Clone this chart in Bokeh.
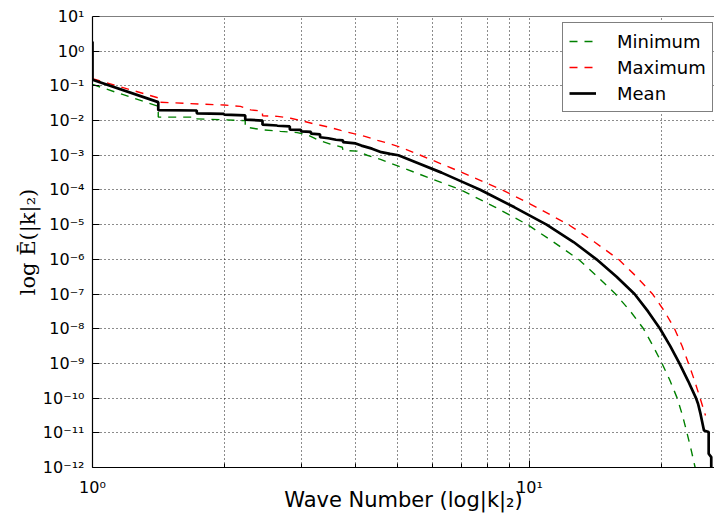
import json
from bokeh.plotting import figure
from bokeh.models import (FixedTicker, CustomJSTickFormatter, Legend, LegendItem,
                          Range1d, Span)
from bokeh.embed import file_html
from bokeh.resources import INLINE

# ---------------- data ----------------
mean_k = [1.0, 1.0, 1.414, 1.414, 1.732, 1.732, 2.0, 2.0, 2.236, 2.236,
          2.449, 2.449, 2.646, 2.646, 2.828, 2.828, 3.0, 3.0, 3.162, 3.162,
          3.317, 3.317, 3.464, 3.606, 3.742, 3.742, 4.0, 4.123, 4.36, 4.58,
          4.8, 5.01, 5.6, 6.29, 7.0, 7.73, 9.24, 10.94, 12.61, 14.23, 15.82,
          17.39, 18.67, 19.89, 20.99, 22.03, 23.05, 24.04, 24.3, 24.62,
          25.07, 25.7, 25.7, 26.05, 26.05]
mean_e = [1.9, 0.15, 0.034, 0.020, 0.0195, 0.0162, 0.0155, 0.0148, 0.0141, 0.0107,
          0.0100, 0.0076, 0.0072, 0.0071, 0.0068, 0.0055, 0.0054, 0.0049, 0.0047, 0.0042,
          0.0040, 0.0033, 0.0031, 0.0028, 0.0027, 0.0024, 0.0022, 0.0019, 0.00155, 0.00123,
          0.0011, 1.0e-3, 5.7e-4, 3.16e-4, 1.74e-4, 1.0e-4, 3.16e-5, 1.0e-5, 3.16e-6, 1.0e-6, 3.16e-7,
          1.0e-7, 3.16e-8, 1.0e-8, 3.16e-9, 1.0e-9, 3.16e-10, 1.0e-10, 6.9e-11, 3.5e-11,
          1.17e-11, 1.05e-11, 2.5e-12, 2.0e-12, 6.0e-13]

max_k = [1.0, 1.414, 1.414, 1.81, 2.0, 2.18, 2.3, 2.449, 2.449, 2.65, 2.84,
         3.0, 3.2, 3.45, 3.7, 3.96, 4.2, 4.49, 4.76, 5.07, 5.63, 7.02, 8.67,
         10.38, 12.28, 14.08, 15.98, 17.57, 19.12, 20.37, 21.47, 22.34, 23.11,
         23.86, 24.56, 25.27]
max_e = [0.162, 0.045, 0.034, 0.0295, 0.028, 0.0257, 0.0204, 0.0186, 0.0138, 0.0132, 0.0117,
         0.0100, 0.0081, 0.0066, 0.0052, 0.0042, 0.0035, 0.0027, 0.0022, 0.0017, 1.0e-3, 3.16e-4, 1.0e-4,
         3.16e-5, 1.0e-5, 3.16e-6, 1.0e-6, 3.16e-7, 1.0e-7, 3.16e-8, 1.0e-8, 3.16e-9, 1.0e-9,
         3.16e-10, 1.0e-10, 3.16e-11]

min_k = [1.0, 1.414, 1.414, 1.732, 1.732, 2.236, 2.236, 2.46, 2.69, 2.94, 3.1,
         3.27, 3.5, 3.73, 3.742, 4.03, 4.25, 4.56, 5.48, 6.97, 8.36, 9.89, 11.35,
         12.94, 14.31, 15.73, 17.02, 18.23, 19.17, 20.1, 20.97, 21.77, 22.39,
         22.92, 23.44, 23.93]
min_e = [0.11, 0.0257, 0.0126, 0.0126, 0.0112, 0.0100, 0.0065, 0.0054, 0.0049, 0.0045, 0.0039,
         0.0028, 0.0021, 0.0017, 0.00138, 0.00132, 1.0e-3, 7.6e-4, 3.16e-4, 1.0e-4, 3.16e-5, 1.0e-5, 3.16e-6,
         1.0e-6, 3.16e-7, 1.0e-7, 3.16e-8, 1.0e-8, 3.16e-9, 1.0e-9, 3.16e-10, 1.0e-10, 3.16e-11,
         1.0e-11, 3.16e-12, 1.0e-12]

x_major_ticks = [1, 10]
x_minor_ticks = [2, 3, 4, 5, 6, 7, 8, 9, 20]
y_ticks = [1e-12, 1e-11, 1e-10, 1e-9, 1e-8, 1e-7, 1e-6, 1e-5, 1e-4, 1e-3, 1e-2, 1e-1, 1e0, 1e1]

series_labels = ["Minimum", "Maximum", "Mean"]
x_label = "Wave Number (log|k|\u2082)"
y_label = "log \u0112(|k|\u2082)"

# ---------------- figure ----------------
p = figure(width=714, height=526, x_axis_type="log", y_axis_type="log",
           x_range=Range1d(1, 26.5), y_range=Range1d(1e-12, 10),
           output_backend="svg", toolbar_location=None,
           min_border_left=92, min_border_right=0, min_border_top=16, min_border_bottom=59)
p.outline_line_color = None
p.background_fill_color = "white"
p.border_fill_color = "white"

sup = {"-": "\u207b", "0": "\u2070", "1": "\u00b9", "2": "\u00b2", "3": "\u00b3",
       "4": "\u2074", "5": "\u2075", "6": "\u2076", "7": "\u2077", "8": "\u2078", "9": "\u2079"}
fmt = CustomJSTickFormatter(code="""
const sup = %s;
const e = Math.round(Math.log10(tick));
return "10" + String(e).split("").map(c => sup[c]).join("");
""" % json.dumps(sup))

p.xaxis.ticker = FixedTicker(ticks=x_major_ticks, minor_ticks=x_minor_ticks)
p.yaxis.ticker = FixedTicker(ticks=y_ticks, minor_ticks=[])
p.xaxis.formatter = fmt
p.yaxis.formatter = fmt

for ax in (p.xaxis, p.yaxis):
    ax.axis_line_color = "black"
    ax.axis_line_width = 1.2
    ax.major_tick_in = 7
    ax.major_tick_out = 0
    ax.minor_tick_in = 4
    ax.minor_tick_out = 0
    ax.major_tick_line_color = "black"
    ax.minor_tick_line_color = "black"
    ax.major_label_text_font = "DejaVu Sans"
    ax.major_label_text_font_size = "16px"
    ax.major_label_text_color = "black"
    ax.axis_label_text_font_style = "normal"
    ax.axis_label_text_color = "black"

p.xaxis.major_label_standoff = 10
p.yaxis.major_label_standoff = 8
p.xaxis.axis_label = x_label
p.xaxis.axis_label_text_font = "DejaVu Sans"
p.xaxis.axis_label_text_font_size = "21px"
p.xaxis.axis_label_standoff = -12
p.yaxis.axis_label = y_label
p.yaxis.axis_label_text_font = "DejaVu Serif"
p.yaxis.axis_label_text_font_size = "21px"
p.yaxis.axis_label_standoff = 0

for g in (p.xgrid, p.ygrid):
    g.grid_line_color = "black"
    g.grid_line_dash = "1 3"
    g.grid_line_width = 1
    g.grid_line_alpha = 0.9
p.xgrid.minor_grid_line_color = "black"
p.xgrid.minor_grid_line_dash = "1 3"
p.xgrid.minor_grid_line_width = 1
p.xgrid.minor_grid_line_alpha = 0.9

p.add_layout(Span(location=10, dimension="width", line_color="black", line_width=1.2))

r_min = p.line(min_k, min_e, line_color="#008000", line_width=1.4, line_dash="8 7")
r_max = p.line(max_k, max_e, line_color="#ff0000", line_width=1.4, line_dash="8 7")
r_mean = p.line(mean_k, mean_e, line_color="black", line_width=2.7)

legend = Legend(items=[LegendItem(label=series_labels[0], renderers=[r_min]),
                       LegendItem(label=series_labels[1], renderers=[r_max]),
                       LegendItem(label=series_labels[2], renderers=[r_mean])],
                location=(470, 355))
legend.label_text_font = "DejaVu Sans"
legend.label_text_font_size = "18px"
legend.label_text_color = "black"
legend.label_height = 24
legend.glyph_height = 24
legend.glyph_width = 27
legend.label_standoff = 21
legend.spacing = 2
legend.padding = 6
legend.margin = 0
legend.border_line_color = "black"
legend.border_line_width = 1
legend.background_fill_color = "white"
legend.background_fill_alpha = 1.0
p.add_layout(legend)

open("out.html", "w").write(file_html(p, INLINE))
